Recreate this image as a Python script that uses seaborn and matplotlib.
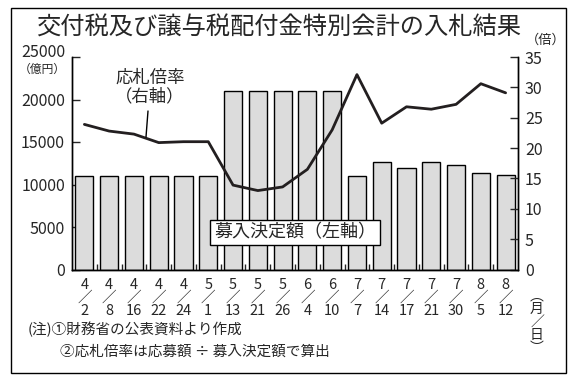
import numpy as np
import pandas as pd
import matplotlib
matplotlib.use("Agg")
import matplotlib.pyplot as plt
import matplotlib.transforms as mtransforms
import seaborn as sns
from matplotlib.patches import Rectangle

months = [4, 4, 4, 4, 4, 5, 5, 5, 5, 6, 6, 7, 7, 7, 7, 7, 8, 8]
days = [2, 8, 16, 22, 24, 1, 13, 21, 26, 4, 10, 7, 14, 17, 21, 30, 5, 12]
amount = [11000, 11000, 11000, 11000, 11000, 11000, 21000, 21000, 21000, 21000, 21000,
          11000, 12600, 12000, 12600, 12300, 11300, 11100]
ratio = [23.9, 22.8, 22.3, 20.9, 21.05, 21.05, 13.9, 13.0, 13.6, 16.5, 23.0,
         32.1, 24.1, 26.8, 26.4, 27.2, 30.6, 29.1]

labels = [f"{m}\n／\n{d}" for m, d in zip(months, days)]
df = pd.DataFrame({"label": labels, "amount": amount, "ratio": ratio,
                   "pos": np.arange(len(labels))})

sns.set_style("ticks")
plt.rcParams['font.family'] = ['Noto Sans CJK JP', 'DejaVu Sans']

W, H = 578, 384
fig = plt.figure(figsize=(W / 100, H / 100), dpi=100)
ax = fig.add_axes([72 / W, 1 - 269.5 / H, (518 - 72) / W, (269.5 - 57) / H])

sns.barplot(data=df, x="label", y="amount", color="#dcdcdc", edgecolor="black",
            linewidth=1, width=0.73, saturation=1, ax=ax)
ax.set_xlim(-0.5, len(labels) - 0.5)
ax.set_ylim(0, 25000)
ax.set_yticks(np.arange(0, 25001, 5000))
ax.set_xlabel("")
ax.set_ylabel("")

ax2 = ax.twinx()
sns.lineplot(data=df, x="pos", y="ratio", color="#231f20", linewidth=2, ax=ax2)
ax2.set_ylim(0, 35)
ax2.set_yticks(np.arange(0, 36, 5))
ax2.set_xlim(-0.5, len(labels) - 0.5)
ax2.set_ylabel("")
ax2.set_xlabel("")

for a in (ax, ax2):
    a.spines['top'].set_visible(False)
    for s in a.spines.values():
        s.set_linewidth(1)
        s.set_color("black")

ax.tick_params(axis='y', direction='in', length=6, width=1, labelsize=11.5, pad=5)
ax2.tick_params(axis='y', direction='in', length=6, width=1, labelsize=11.5, pad=5)
ax.tick_params(axis='x', length=0, labelsize=10.5, pad=6)
for t in ax.get_xticklabels():
    t.set_linespacing(0.92)
ax.set_xticks(np.arange(len(labels) - 1) + 0.5, minor=True)
ax.tick_params(axis='x', which='minor', direction='in', length=4, width=1)

# the top left label sits a little higher in the original
top_lab = ax.get_yticklabels()[-1]
top_lab.set_transform(top_lab.get_transform() +
                      mtransforms.ScaledTranslation(0, 5 / 72, fig.dpi_scale_trans))

fig.text(279 / W, 1 - 28 / H, "交付税及び譲与税配付金特別会計の入札結果",
         ha='center', va='center', fontsize=17.5)
fig.text(42 / W, 1 - 69 / H, "（億円）", ha='center', va='center', fontsize=8.5)
fig.text(546 / W, 1 - 40 / H, "（倍）", ha='center', va='center', fontsize=9.5)
fig.text(537 / W, 1 - 322 / H, "︵\n月\n／\n日\n︶", ha='center', va='center',
         fontsize=10, linespacing=0.9)

fig.text(150 / W, 1 - 87 / H, "応札倍率\n（右軸）", ha='center', va='center',
         fontsize=12.5, linespacing=1.1)
fig.add_artist(plt.Line2D([148 / W, 146 / W], [1 - 111 / H, 1 - 137 / H],
                          color="black", linewidth=1))
ax2.text(0.5, 0.175, "募入決定額（左軸）", transform=ax2.transAxes,
         ha='center', va='center', fontsize=13,
         bbox=dict(boxstyle='square,pad=0.2', facecolor='white', edgecolor='black', linewidth=1))

fig.text(28 / W, 1 - 329 / H, "(注)①財務省の公表資料より作成", ha='left', va='center', fontsize=10.5)
fig.text(60 / W, 1 - 352 / H, "②応札倍率は応募額 ÷ 募入決定額で算出", ha='left', va='center', fontsize=10.5)

fig.add_artist(Rectangle((11 / W, 1 - 373 / H), 555 / W, 365 / H, transform=fig.transFigure,
                         fill=False, edgecolor="black", linewidth=1))

fig.savefig("out.png", dpi=100)
